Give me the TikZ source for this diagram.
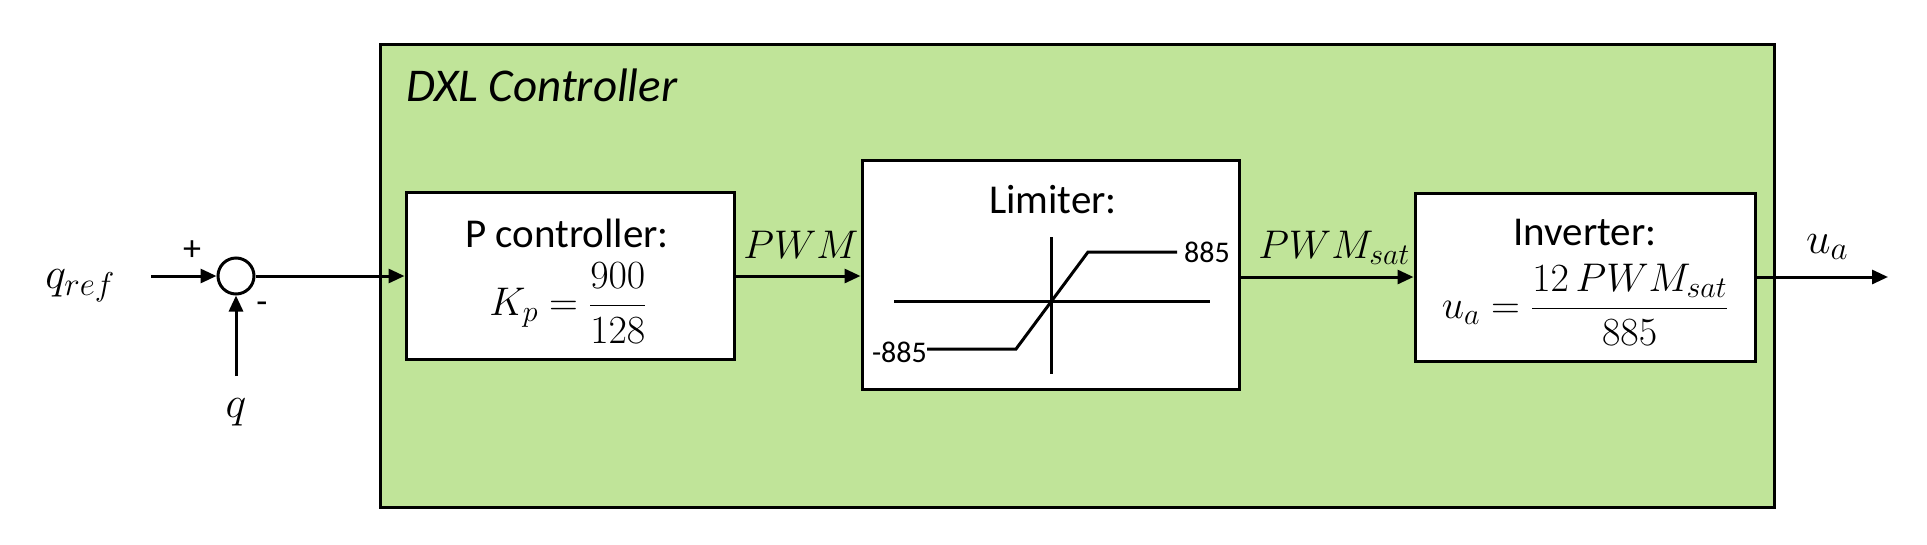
\RequirePackage{fix-cm}
\documentclass[tikz,border=0pt]{standalone}
\usepackage{amsmath}
\usepackage[no-math]{fontspec}
\setmainfont{Carlito}
\usetikzlibrary{arrows.meta}
\DeclareMathSizes{40}{40}{30}{24}
\DeclareMathSizes{44}{44}{33}{26}
\definecolor{dxlgreen}{RGB}{192,228,153}
\tikzset{
  blockbox/.style={draw=black, fill=white, line width=3pt, inner sep=0pt},
  sigline/.style={line width=3pt, -{Triangle[length=16pt,width=14pt]}},
  lbl/.style={font=\fontsize{41}{48}\selectfont, inner sep=0pt},
  small/.style={font=\fontsize{30}{34}\selectfont, inner sep=0pt},
  sign/.style={font=\fontsize{36}{40}\selectfont, inner sep=0pt},
  mth/.style={font=\fontsize{40}{46}\selectfont, inner sep=0pt},
  bigmth/.style={font=\fontsize{44}{50}\selectfont, inner sep=0pt},
  curve/.style={line width=3pt, line join=miter}
}
\begin{document}
\begin{tikzpicture}[x=1pt,y=-1pt]
\useasboundingbox (0,0) rectangle (1927,544);
% outer controller box
\node[draw=black, fill=dxlgreen, line width=3pt, inner sep=0pt, minimum width=1394pt, minimum height=463pt, anchor=north west] (dxl) at (379,43) {};
\node[lbl, font=\fontsize{47}{54}\selectfont\itshape, anchor=base west] (dxltitle) at (406,101) {DXL Controller};
% blocks
\node[blockbox, minimum width=328pt, minimum height=167pt] (P) at (570,276) {};
\node[blockbox, minimum width=377pt, minimum height=229pt] (L) at (1050.5,274.5) {};
\node[blockbox, minimum width=340pt, minimum height=168pt] (I) at (1585,277) {};
% block texts
\node[lbl] (Ptitle) at (567,233) {P controller:};
\node[mth] (Pform) at (568,303) {$K_p = \dfrac{900}{128}$};
\node[lbl] (Ltitle) at (1053,200) {Limiter:};
\node[lbl] (Ititle) at (1585,233) {Inverter:};
\node[mth] (Iform) at (1585,305) {$u_a = \dfrac{12\,PWM_{sat}}{885}$};
% limiter curve
\coordinate (hl) at (894,301);
\coordinate (hr) at (1210,301);
\coordinate (vt) at (1051,237);
\coordinate (vb) at (1051,374);
\draw[curve] (hl) -- (hr);
\draw[curve] (vt) -- (vb);
\coordinate (s1) at (927,349);
\coordinate (s2) at (1016,349);
\coordinate (s3) at (1088,252);
\coordinate (s4) at (1177,252);
\draw[curve] (s1) -- (s2) -- (s3) -- (s4);
\node[small, anchor=west] (hi) at (1184,252) {885};
\node[small, anchor=east] (lo) at (927,352) {-885};
% summing junction
\node[draw=black, fill=white, circle, line width=3pt, minimum size=36pt, inner sep=0pt] (sum) at (236,276) {};
\coordinate (qin) at (151,276);
\coordinate (qfb) at (236,376);
\coordinate (uout) at (1888,277);
\node[bigmth, anchor=base] (qref) at (80,288) {$q_{ref}$};
\node[bigmth, anchor=base] (q) at (236,417) {$q$};
\node[sign] (plus) at (192,251) {+};
\node[sign] (minus) at (262,308) {-};
% connectors
\draw[sigline] (qin) -- (sum.west);
\draw[sigline] (qfb) -- (sum.south);
\draw[sigline] (sum.east) -- (P.west);
\draw[sigline] (P.east) -- (L.west |- P.east);
\draw[sigline] (L.east |- I.west) -- (I.west);
\draw[sigline] (I.east) -- (uout);
% signal labels
\node[mth, anchor=base] (pwm) at (801,258) {$PWM$};
\node[mth, anchor=base] (pwmsat) at (1334,258) {$PWM_{sat}$};
\node[bigmth, anchor=base] (ua) at (1827,253) {$u_a$};
\end{tikzpicture}
\end{document}
